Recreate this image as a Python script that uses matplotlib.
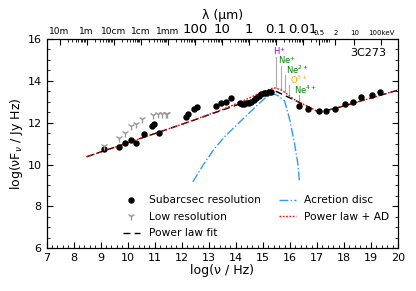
import numpy as np
import matplotlib
matplotlib.use('Agg')
import matplotlib.pyplot as plt
from matplotlib.ticker import MultipleLocator

# data (log nu [Hz], log nuFnu [Jy Hz])
sub_nu = [9.12, 9.68, 9.90, 10.14, 10.32, 10.60, 10.91, 10.96, 11.15,
          12.17, 12.23, 12.45, 12.55, 13.25, 13.46, 13.62, 13.83,
          14.14, 14.22, 14.30, 14.39, 14.47, 14.57, 14.66, 14.75, 14.85,
          14.94, 15.03, 15.12, 15.21, 15.31,
          16.33, 16.66, 17.06, 17.34, 17.65, 18.04, 18.32, 18.63, 19.02, 19.33]
sub_y = [10.72, 10.82, 11.04, 11.15, 11.04, 11.47, 11.84, 11.93, 11.52,
         12.28, 12.40, 12.67, 12.73, 12.81, 12.94, 12.97, 13.16,
         12.95, 12.90, 12.89, 12.92, 12.96, 13.00, 13.08, 13.16, 13.26,
         13.37, 13.40, 13.43, 13.46, 13.48,
         12.81, 12.65, 12.56, 12.56, 12.64, 12.88, 13.00, 13.24, 13.31, 13.45]

low_nu = [9.12, 9.68, 9.89, 10.11, 10.32, 10.52, 10.94, 11.11, 11.27, 11.41, 11.45]
low_y = [10.89, 11.25, 11.49, 11.84, 11.93, 12.20, 12.38, 12.41, 12.41, 12.41, 12.41]

pl_nu = [8.48, 12.0, 14.0, 15.5, 16.1, 16.56, 17.09, 18.0, 19.0, 20.0]
pl_y = [10.37, 11.92, 12.83, 13.49, 13.12, 12.84, 12.49, 12.80, 13.18, 13.56]

ad_nu = [12.41, 12.8, 13.2, 13.6, 14.0, 14.4, 14.8, 15.1, 15.37, 15.55,
         15.8, 16.0, 16.17, 16.29, 16.35]
ad_y = [9.17, 10.0, 10.75, 11.35, 11.85, 12.35, 12.85, 13.2, 13.38, 13.3,
        13.05, 12.1, 11.0, 10.05, 9.2]

tot_nu = [8.48, 12.0, 13.5, 14.0, 14.5, 15.0, 15.41, 15.7, 15.86, 16.1,
          16.3, 16.56, 17.09, 18.0, 19.0, 20.0]
tot_y = [10.37, 11.92, 12.63, 12.90, 13.18, 13.49, 13.67, 13.56, 13.40, 13.16,
         13.0, 12.84, 12.49, 12.80, 13.18, 13.56]

# ionisation lines: name, colour, line nu, bottom, top, label nu, label y
ions = ['H$^{+}$', 'Ne$^{+}$', 'Ne$^{2+}$', 'O$^{3+}$', 'Ne$^{4+}$']
ion_col = ['#9900dd', 'green', 'green', 'orange', 'green']
ion_nu = [15.49, 15.68, 15.82, 15.98, 16.33]
ion_bot = [13.67, 13.58, 13.48, 13.35, 12.92]
ion_top = [15.15, 14.72, 14.28, 13.80, 13.30]
ion_lx = [15.37, 15.57, 15.85, 16.0, 16.16]
ion_ly = [15.25, 14.79, 14.32, 13.85, 13.37]

# top axis (wavelength / energy) ticks
top_pos = [7.48, 8.48, 9.48, 10.48, 11.48, 12.48, 13.48, 14.48, 15.48, 16.48,
           17.08, 17.68, 18.38, 19.38]
top_lab = ['10m', '1m', '10cm', '1cm', '1mm', '100', '10', '1', '0.1', '0.01',
           '0.5', '2', '10', '100keV']
top_size = [6.5] * 5 + [9.5] * 5 + [5] * 4

fig = plt.figure(figsize=(4.16, 2.91), dpi=100)
ax = fig.add_axes([0.112, 0.147, 0.845, 0.719])

ax.plot(pl_nu, pl_y, color='black', ls=(0, (5, 3)), lw=1.0, zorder=2)
ax.plot(tot_nu, tot_y, color='red', ls=(0, (1.2, 1.2)), lw=1.0, zorder=3)
ax.plot(ad_nu, ad_y, color='#3399ff', ls='-.', lw=1.0, zorder=2)
ax.plot(sub_nu, sub_y, 'o', color='black', ms=3.6, zorder=4)
ax.plot(low_nu, low_y, '1', color='#999999', ms=6, mew=1.0, zorder=4)

for name, c, x, b, t, lx, ly in zip(ions, ion_col, ion_nu, ion_bot, ion_top, ion_lx, ion_ly):
    ax.plot([x, x], [b, t], color='#aaaaaa', lw=0.8, zorder=1)
    ax.text(lx, ly, name, color=c, fontsize=6, ha='left', va='baseline')

ax.text(0.965, 0.935, '3C273', transform=ax.transAxes, ha='right', va='center', fontsize=8)

# legend handles
h_sub, = ax.plot([], [], 'o', color='black', ms=3.6)
h_low, = ax.plot([], [], '1', color='#999999', ms=6)
h_pl, = ax.plot([], [], color='black', ls=(0, (5, 3)), lw=1.0)
h_ad, = ax.plot([], [], color='#3399ff', ls='-.', lw=1.0)
h_tot, = ax.plot([], [], color='red', ls=(0, (1.2, 1.2)), lw=1.0)
ax.legend([h_sub, h_low, h_pl, h_ad, h_tot],
          ['Subarcsec resolution', 'Low resolution', 'Power law fit',
           'Acretion disc', 'Power law + AD'],
          ncol=2, frameon=False, fontsize=7.7, loc='upper left',
          bbox_to_anchor=(0.217, 0.252), borderaxespad=0, borderpad=0,
          handlelength=1.6, columnspacing=1.7, labelspacing=0.6)

ax.set_xlim(7, 20)
ax.set_ylim(6, 16)
ax.xaxis.set_major_locator(MultipleLocator(1))
ax.xaxis.set_minor_locator(MultipleLocator(0.2))
ax.yaxis.set_major_locator(MultipleLocator(2))
ax.yaxis.set_minor_locator(MultipleLocator(0.5))
ax.tick_params(which='both', direction='in', right=True, labelsize=8)
ax.tick_params(which='major', length=4)
ax.tick_params(which='minor', length=2)
ax.set_xlabel('log(\u03bd / Hz)', fontsize=9, labelpad=1)
ax.set_ylabel('log(\u03bdF$_\u03bd$ / Jy Hz)', fontsize=9, labelpad=2)

top = ax.twiny()
top.set_xlim(7, 20)
top.set_xticks(top_pos)
top.set_xticklabels(top_lab)
for lab, s in zip(top.get_xticklabels(), top_size):
    lab.set_fontsize(s)
minor = []
for p in top_pos[:10]:
    minor += [p + np.log10(k) for k in range(2, 10)]
minor = [m for m in minor if 7 < m < 20]
top.set_xticks(minor, minor=True)
top.tick_params(which='both', direction='in', pad=2)
top.tick_params(which='major', length=4)
top.tick_params(which='minor', length=2)
top.set_xlabel('\u03bb (\u03bcm)', fontsize=9, labelpad=3)

fig.savefig('out.png', dpi=100)
